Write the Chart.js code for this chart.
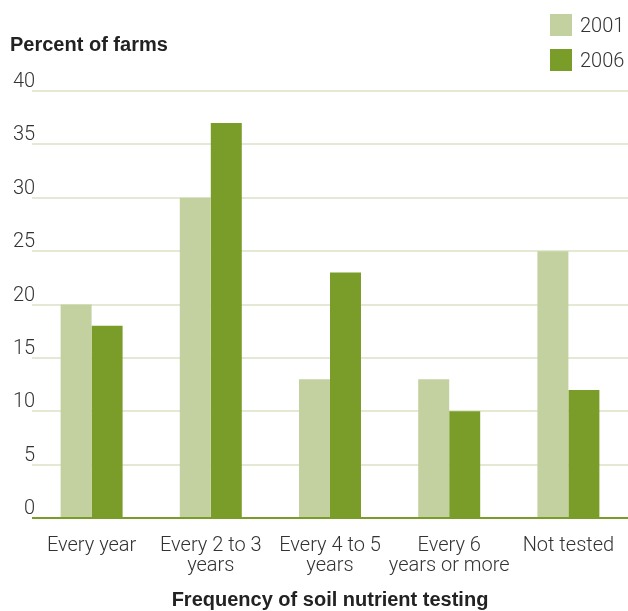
<!DOCTYPE html>
<html lang="en">
<head>
    <meta charset="UTF-8">
    <title>Soil nutrient testing</title>
    <script src="https://cdn.jsdelivr.net/npm/chart.js"></script>
</head>
<style>
    html, body{
        margin: 0;
        padding: 0;
        background: #ffffff;
    }
    .wrap{
        position: relative;
        width: 628px;
        height: 611px;
    }
    .legend{
        position: absolute;
        left: 550px;
        top: 14px;
        font-family: Roboto, sans-serif;
        font-weight: 300;
        font-size: 20px;
        color: #333333;
    }
    .legend-item{
        display: flex;
        align-items: center;
        height: 22px;
        margin-bottom: 13px;
    }
    .legend-item span.box{
        display: inline-block;
        width: 22px;
        height: 22px;
        margin-right: 8px;
    }
</style>
<body>
    <div class="wrap">
        <canvas id="chart" width="628" height="611"></canvas>
        <div class="legend" id="legend"></div>
    </div>

<script>
    // categories and values (percent of farms)
    let categories = [
        ['Every year'],
        ['Every 2 to 3', 'years'],
        ['Every 4 to 5', 'years'],
        ['Every 6', 'years or more'],
        ['Not tested']
    ];
    let years = ['2001', '2006'];
    let values2001 = [20, 30, 13, 13, 25];
    let values2006 = [18, 37, 23, 10, 12];
    let yTicks = [0, 5, 10, 15, 20, 25, 30, 35, 40];

    let lightGreen = '#c3d1a0';
    let darkGreen = '#7a9c29';
    let textColor = '#333333';

    let canvas = document.getElementById('chart');

    let chart = new Chart(canvas, {
        type: 'bar',
        data: {
            labels: categories,
            datasets: [{
                label: years[0],
                data: values2001,
                backgroundColor: lightGreen
            },
            {
                label: years[1],
                data: values2006,
                backgroundColor: darkGreen
            }]
        },
        options: {
            responsive: false,
            animation: false,
            layout: {
                padding: { left: 10, right: 0, top: 0, bottom: 0 }
            },
            datasets: {
                bar: {
                    barPercentage: 1,
                    categoryPercentage: 0.52
                }
            },
            scales: {
                x: {
                    afterFit: (scale) => { scale.height = 93; },
                    grid: { display: false },
                    border: { display: false },
                    ticks: {
                        color: textColor,
                        padding: 10,
                        maxRotation: 0,
                        autoSkip: false,
                        font: { family: 'Roboto', weight: 300, size: 20, lineHeight: 1.0 }
                    },
                    title: {
                        display: true,
                        text: 'Frequency of soil nutrient testing',
                        color: '#222222',
                        padding: { top: 0, bottom: -1 },
                        font: { family: 'Liberation Sans', weight: 'bold', size: 20, lineHeight: 1.2 }
                    }
                },
                y: {
                    min: 0,
                    max: 40,
                    afterFit: (scale) => { scale.width = 22; },
                    afterBuildTicks: (scale) => {
                        scale.ticks = yTicks.map(v => ({ value: v }));
                    },
                    border: { display: false },
                    grid: {
                        drawTicks: false,
                        color: (ctx) => ctx.tick && ctx.tick.value === 0 ? darkGreen : '#e3e9d2',
                        lineWidth: 2
                    },
                    ticks: {
                        color: textColor,
                        mirror: true,
                        crossAlign: 'far',
                        padding: -19,
                        labelOffset: -9,
                        font: { family: 'Roboto', weight: 300, size: 20 }
                    }
                }
            },
            plugins: {
                legend: { display: false },
                tooltip: { enabled: false },
                title: {
                    display: true,
                    text: 'Percent of farms',
                    align: 'start',
                    color: '#222222',
                    padding: { top: 33, bottom: 34 },
                    font: { family: 'Liberation Sans', weight: 'bold', size: 20, lineHeight: 1.2 }
                }
            }
        }
    });

    // legend built from the datasets
    let legend = document.getElementById('legend');
    chart.data.datasets.forEach((ds) => {
        let item = document.createElement('div');
        item.className = 'legend-item';
        let box = document.createElement('span');
        box.className = 'box';
        box.style.background = ds.backgroundColor;
        let txt = document.createElement('span');
        txt.textContent = ds.label;
        item.appendChild(box);
        item.appendChild(txt);
        legend.appendChild(item);
    });
</script>
</body>
</html>
